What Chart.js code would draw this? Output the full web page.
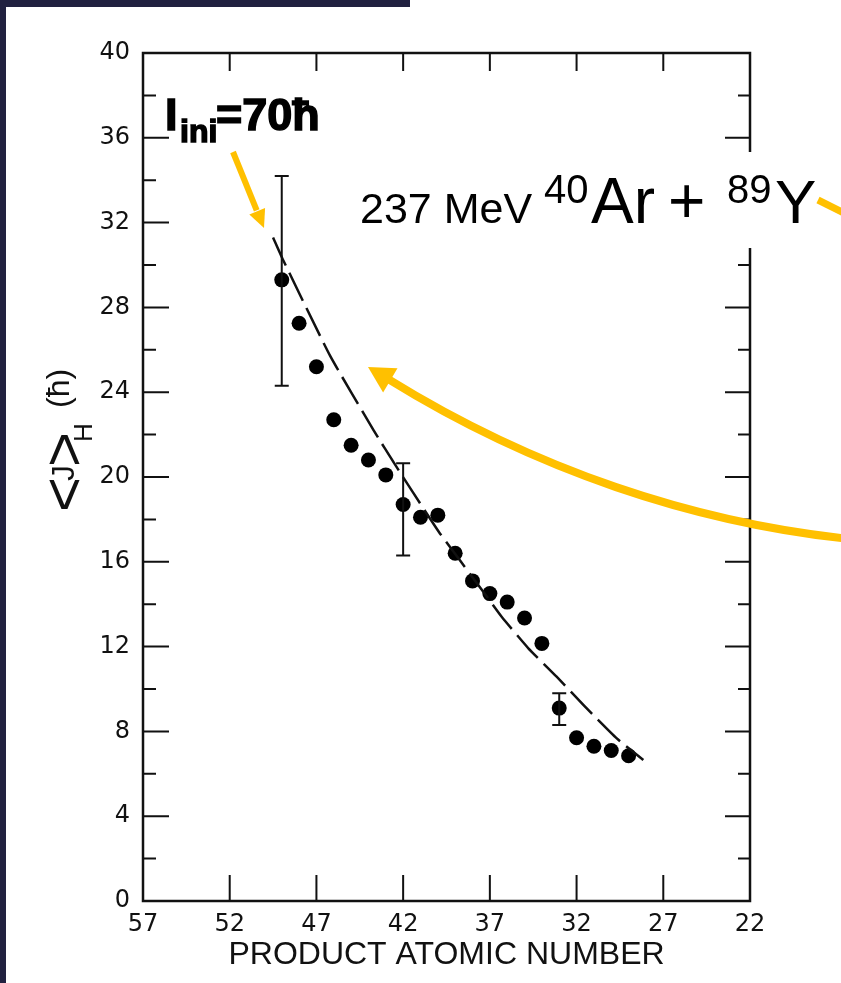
<!DOCTYPE html>
<html><head><meta charset="utf-8">
<script src="https://cdn.jsdelivr.net/npm/chart.js@4.4.1/dist/chart.umd.min.js"></script>
<style>html,body{margin:0;padding:0;background:#fff;overflow:hidden}canvas{display:block}</style>
</head><body>
<canvas id="c" width="841" height="983"></canvas>
<script>
// ---- data ----
const atomicNumber = [49,48,47,46,45,44,43,42,41,40,39,38,37,36,35,34,33,32,31,30,29];
const meanSpin     = [29.3,27.25,25.2,22.7,21.5,20.8,20.1,18.7,18.1,18.2,16.4,15.1,14.5,14.1,13.35,12.15,9.1,7.7,7.3,7.1,6.85];
const errAtomicNumber = [49,42,33];
const errLow  = [24.3,16.3,8.3];
const errHigh = [34.2,20.65,9.8];
const curveZ = [49.5,48.9,46.2,43.7,42.4,40.5,39.88,37.38,36.32,34.78,33.15,31.61,29.68,28.15];
const curveJ = [31.3,30.2,25.7,22.2,20.5,18.1,17.34,14.59,13.41,11.92,10.58,9.25,7.67,6.65];
const xTickValues = [57,52,47,42,37,32,27,22];
const yTickValues = [0,2,4,6,8,10,12,14,16,18,20,22,24,26,28,30,32,34,36,38,40];
const xTitle = 'PRODUCT ATOMIC NUMBER';

const FONT = '"Liberation Sans", Arial, Helvetica, sans-serif';
const TICKFONT = '"DejaVu Sans", sans-serif';
const INK = '#111';
const GOLD = '#FFC000';

const decorPlugin = {
  id: 'decor',
  afterDatasetsDraw(chart) {
    const {ctx, chartArea: a, scales: {x, y}} = chart;
    ctx.save();
    // error bars
    ctx.strokeStyle = INK; ctx.lineWidth = 2;
    errAtomicNumber.forEach((z, i) => {
      const px = x.getPixelForValue(z);
      const lo = y.getPixelForValue(errLow[i]);
      const hi = y.getPixelForValue(errHigh[i]);
      ctx.beginPath();
      ctx.moveTo(px, lo); ctx.lineTo(px, hi);
      ctx.moveTo(px - 7, lo); ctx.lineTo(px + 7, lo);
      ctx.moveTo(px - 7, hi); ctx.lineTo(px + 7, hi);
      ctx.stroke();
    });
    // frame
    ctx.lineWidth = 2.5;
    ctx.strokeRect(a.left, a.top, a.right - a.left, a.bottom - a.top);
    // ticks (inward)
    ctx.lineWidth = 2;
    ctx.beginPath();
    xTickValues.forEach(v => {
      if (v === 57 || v === 22) return;
      const px = x.getPixelForValue(v);
      ctx.moveTo(px, a.bottom); ctx.lineTo(px, a.bottom - 26);
      ctx.moveTo(px, a.top); ctx.lineTo(px, a.top + 18);
    });
    yTickValues.forEach(v => {
      if (v === 0 || v === 40) return;
      const py = y.getPixelForValue(v);
      const long = v % 4 === 0;
      ctx.moveTo(a.left, py); ctx.lineTo(a.left + (long ? 26 : 13), py);
      ctx.moveTo(a.right, py); ctx.lineTo(a.right - (long ? 25 : 12), py);
    });
    ctx.stroke();

    // y axis title  <J>_H (ħ), rotated (local y = screen x, local x = 508 - screen y)
    ctx.save();
    ctx.translate(0, 508);
    ctx.rotate(-Math.PI / 2);
    ctx.fillStyle = INK;
    ctx.textBaseline = 'alphabetic';
    ctx.font = '60px ' + FONT;
    ctx.fillText('<', -4, 83.5);
    ctx.fillText('>', 41, 83.5);
    ctx.font = '32px ' + FONT;
    ctx.fillText('J', 27, 74);
    ctx.font = '26px ' + FONT;
    ctx.fillText('H', 66, 92);
    ctx.font = '32px ' + FONT;
    ctx.fillText('(\u0127)', 100, 69);
    ctx.restore();

    // white text box hiding right axis
    ctx.fillStyle = '#fff';
    ctx.fillRect(345, 152, 500, 96);

    // reaction label
    ctx.fillStyle = '#000';
    ctx.textBaseline = 'alphabetic';
    ctx.font = '43px ' + FONT;
    ctx.fillText('237 MeV', 360, 223);
    ctx.font = '40px ' + FONT;
    ctx.fillText('40', 544, 203);
    ctx.font = '64px ' + FONT;
    ctx.fillText('Ar', 591, 223);
    ctx.fillText('+', 668, 223);
    ctx.font = '40px ' + FONT;
    ctx.fillText('89', 727, 203);
    ctx.font = '62px ' + FONT;
    ctx.fillText('Y', 775, 223);

    // I_ini = 70ħ
    ctx.lineWidth = 1.5; ctx.strokeStyle = '#000';
    ctx.font = 'bold 45px ' + FONT;
    ctx.fillText('I', 165, 130); ctx.strokeText('I', 165, 130);
    ctx.font = 'bold 32px ' + FONT;
    ctx.fillText('ini', 180, 142); ctx.strokeText('ini', 180, 142);
    ctx.font = 'bold 45px ' + FONT;
    ctx.fillText('=70\u0127', 216, 130); ctx.strokeText('=70\u0127', 216, 130);

    // arrows
    ctx.strokeStyle = GOLD; ctx.fillStyle = GOLD; ctx.lineCap = 'butt';
    const head = (tx, ty, dx, dy, len, half) => {
      const L = Math.hypot(dx, dy), ux = dx / L, uy = dy / L;
      const bx = tx - ux * len, by = ty - uy * len;
      ctx.beginPath();
      ctx.moveTo(tx, ty);
      ctx.lineTo(bx - uy * half, by + ux * half);
      ctx.lineTo(bx + uy * half, by - ux * half);
      ctx.closePath(); ctx.fill();
      return [bx, by];
    };
    // small arrow
    let b = head(264, 228, 31, 76, 18, 8.5);
    ctx.lineWidth = 6;
    ctx.beginPath(); ctx.moveTo(233, 152); ctx.lineTo(b[0] - 0.5, b[1] - 1); ctx.stroke();
    // big curved arrow (points up-left)
    b = head(368, 367, -1, -0.6, 26, 14);
    ctx.lineWidth = 8;
    ctx.beginPath();
    ctx.moveTo(b[0] - 2, b[1] - 1.2);
    ctx.bezierCurveTo(535, 470, 695, 523, 850, 539);
    ctx.stroke();
    // short segment off the Y
    ctx.lineWidth = 7;
    ctx.beginPath(); ctx.moveTo(818, 200); ctx.lineTo(848, 215); ctx.stroke();

    // dark slide frame
    ctx.fillStyle = '#212140';
    ctx.fillRect(0, 0, 410, 7);
    ctx.fillRect(0, 0, 6, 983);
    ctx.restore();
  }
};

new Chart(document.getElementById('c'), {
  type: 'scatter',
  data: {
    datasets: [
      {
        data: curveZ.map((z, i) => ({x: z, y: curveJ[i]})),
        showLine: true, borderColor: INK, borderWidth: 2.5, borderDash: [31, 8],
        pointRadius: 0, tension: 0.15, fill: false
      },
      {
        data: atomicNumber.map((z, i) => ({x: z, y: meanSpin[i]})),
        showLine: false, pointRadius: 7.5, pointBackgroundColor: '#000',
        pointBorderColor: '#000', pointBorderWidth: 0
      }
    ]
  },
  options: {
    responsive: false, animation: false, devicePixelRatio: 1,
    layout: {padding: {top: 53, right: 91, left: 0, bottom: 0}},
    plugins: {legend: {display: false}, tooltip: {enabled: false}},
    scales: {
      x: {
        type: 'linear', min: 22, max: 57, reverse: true,
        afterBuildTicks: s => { s.ticks = xTickValues.map(v => ({value: v})); },
        afterFit: s => { s.height = 82; },
        grid: {display: false, drawTicks: false}, border: {display: false},
        ticks: {autoSkip: false, maxRotation: 0, padding: 9, color: INK,
                font: {family: TICKFONT, size: 24}},
        title: {display: true, text: xTitle, color: INK,
                font: {family: FONT, size: 32}, padding: {top: 0, bottom: 9}}
      },
      y: {
        type: 'linear', min: 0, max: 40,
        afterBuildTicks: s => { s.ticks = yTickValues.map(v => ({value: v})); },
        afterFit: s => { s.width = 143; },
        grid: {display: false, drawTicks: false}, border: {display: false},
        ticks: {autoSkip: false, padding: 13, color: INK,
                font: {family: TICKFONT, size: 24},
                callback: v => (v % 4 === 0 ? String(v) : '')}
      }
    }
  },
  plugins: [decorPlugin]
});
</script>
</body></html>
